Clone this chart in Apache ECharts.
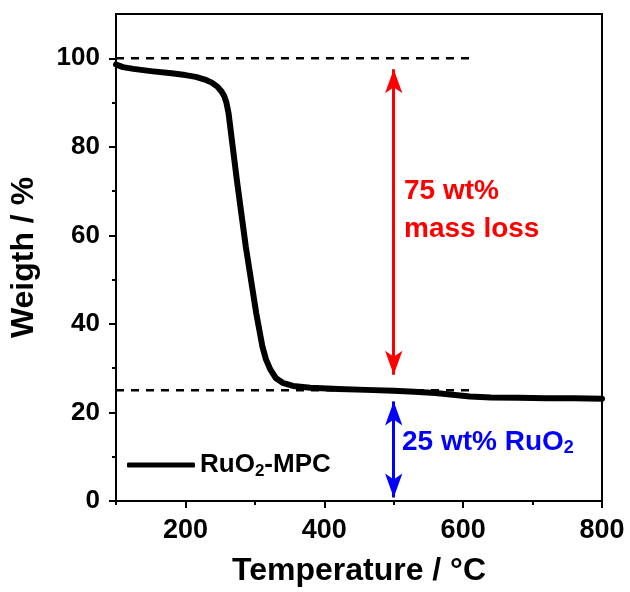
<!DOCTYPE html>
<html><head><meta charset="utf-8">
<script src="https://cdn.jsdelivr.net/npm/echarts@6/dist/echarts.min.js"></script>
<style>html,body{margin:0;padding:0;background:#fff}#c{width:630px;height:592px}</style>
</head><body><div id="c"></div>
<script>
const temps = [100,110,125,150,180,200,215,228,238,246,252,256,259,262,274,287,302,311,316,322,330,340,355,380,420,460,500,530,560,585,610,640,680,720,760,800];
const weights = [98.6,98.0,97.6,97.1,96.6,96.2,95.8,95.2,94.5,93.6,92.5,91.4,90.0,87.7,72.6,57.4,42.4,34.8,32.0,29.8,27.8,26.7,26.0,25.6,25.3,25.1,24.9,24.7,24.4,24.0,23.6,23.4,23.3,23.2,23.2,23.1];
const xMajor = [200,400,600,800];
const xMinor = [100,300,500,700];
const yMajor = [0,20,40,60,80,100];
const yMinor = [10,30,50,70,90];
const refTop = [[100,100],[617,100]];
const refBottom = [[100,25],[617,25]];
const lossArrow = [[500,97.5],[500,28.5]];
const residueArrow = [[500,22.5],[500,0.8]];

const F = '"Liberation Sans", Arial, sans-serif';
const chart = echarts.init(document.getElementById('c'));
const xBase = {type:'value', min:100, max:800, gridIndex:0};
const yBase = {type:'value', min:0, max:110, gridIndex:0};
chart.setOption({
  animation:false,
  grid:{left:116, right:28, top:14, bottom:91, show:true, borderColor:'#000', borderWidth:2, backgroundColor:'transparent'},
  xAxis:[
    Object.assign({}, xBase, {
      name:'Temperature / °C', nameLocation:'middle', nameGap:54,
      nameTextStyle:{fontFamily:F, fontWeight:'bold', fontSize:32, color:'#000'},
      axisLine:{lineStyle:{color:'#000', width:2}},
      axisTick:{customValues:xMajor, length:7, lineStyle:{width:2, color:'#000'}},
      axisLabel:{customValues:xMajor, fontFamily:F, fontWeight:'bold', fontSize:27, color:'#000', margin:16},
      splitLine:{show:false}
    }),
    Object.assign({}, xBase, {
      position:'bottom',
      axisLine:{show:false},
      axisTick:{customValues:xMinor, length:4, lineStyle:{width:2, color:'#000'}},
      axisLabel:{show:false}, splitLine:{show:false}
    })
  ],
  yAxis:[
    Object.assign({}, yBase, {
      name:'Weigth / %', nameLocation:'middle', nameGap:76,
      nameTextStyle:{fontFamily:F, fontWeight:'bold', fontSize:32, color:'#000'},
      axisLine:{lineStyle:{color:'#000', width:2}},
      axisTick:{customValues:yMajor, length:7, lineStyle:{width:2, color:'#000'}},
      axisLabel:{customValues:yMajor, fontFamily:F, fontWeight:'bold', fontSize:26, color:'#000', margin:16},
      splitLine:{show:false}
    }),
    Object.assign({}, yBase, {
      position:'left',
      axisLine:{show:false},
      axisTick:{customValues:yMinor, length:4, lineStyle:{width:2, color:'#000'}},
      axisLabel:{show:false}, splitLine:{show:false}
    })
  ],
  legend:{
    left:122, top:447, itemWidth:68, itemHeight:5, itemGap:4,
    data:[{name:'RuO2-MPC', icon:'roundRect'}],
    formatter:()=>'{a|RuO}{s|2}{a|-MPC}',
    textStyle:{rich:{
      a:{fontFamily:F, fontWeight:'bold', fontSize:26, color:'#000'},
      s:{fontFamily:F, fontWeight:'bold', fontSize:17, color:'#000', verticalAlign:'bottom', padding:[12,0,0,0]}
    }}
  },
  series:[
    {type:'line', name:'RuO2-MPC', data:temps.map((t,i)=>[t,weights[i]]), showSymbol:false, smooth:false,
      lineStyle:{color:'#000', width:6, cap:'round', join:'round'}, itemStyle:{color:'#000'}, z:5},
    {type:'line', data:refTop, showSymbol:false, lineStyle:{color:'#000', width:2.5, type:[8,7]}, silent:true},
    {type:'line', data:refBottom, showSymbol:false, lineStyle:{color:'#000', width:2.5, type:[8,7]}, silent:true},
    {type:'line', data:[], markLine:{silent:true, symbol:['arrow','arrow'], symbolSize:[13,24],
      lineStyle:{color:'#ff0000', width:3, type:'solid'}, label:{show:false},
      data:[[{coord:lossArrow[0]},{coord:lossArrow[1]}]]}},
    {type:'line', data:[], markLine:{silent:true, symbol:['arrow','arrow'], symbolSize:[13,24],
      lineStyle:{color:'#0000ff', width:3, type:'solid'}, label:{show:false},
      data:[[{coord:residueArrow[0]},{coord:residueArrow[1]}]]}}
  ],
  graphic:[
    {type:'text', left:404, top:172, style:{text:'75 wt%\nmass loss', fontFamily:F, fontWeight:'bold', fontSize:28, lineHeight:38, fill:'#ff0000'}},
    {type:'text', left:402, top:428, style:{text:'{a|25 wt% RuO}{s|2}', rich:{
      a:{fontFamily:F, fontWeight:'bold', fontSize:28, fill:'#0000ff', color:'#0000ff'},
      s:{fontFamily:F, fontWeight:'bold', fontSize:18, fill:'#0000ff', color:'#0000ff', verticalAlign:'bottom', padding:[12,0,0,0]}}}}
  ]
});
</script></body></html>
